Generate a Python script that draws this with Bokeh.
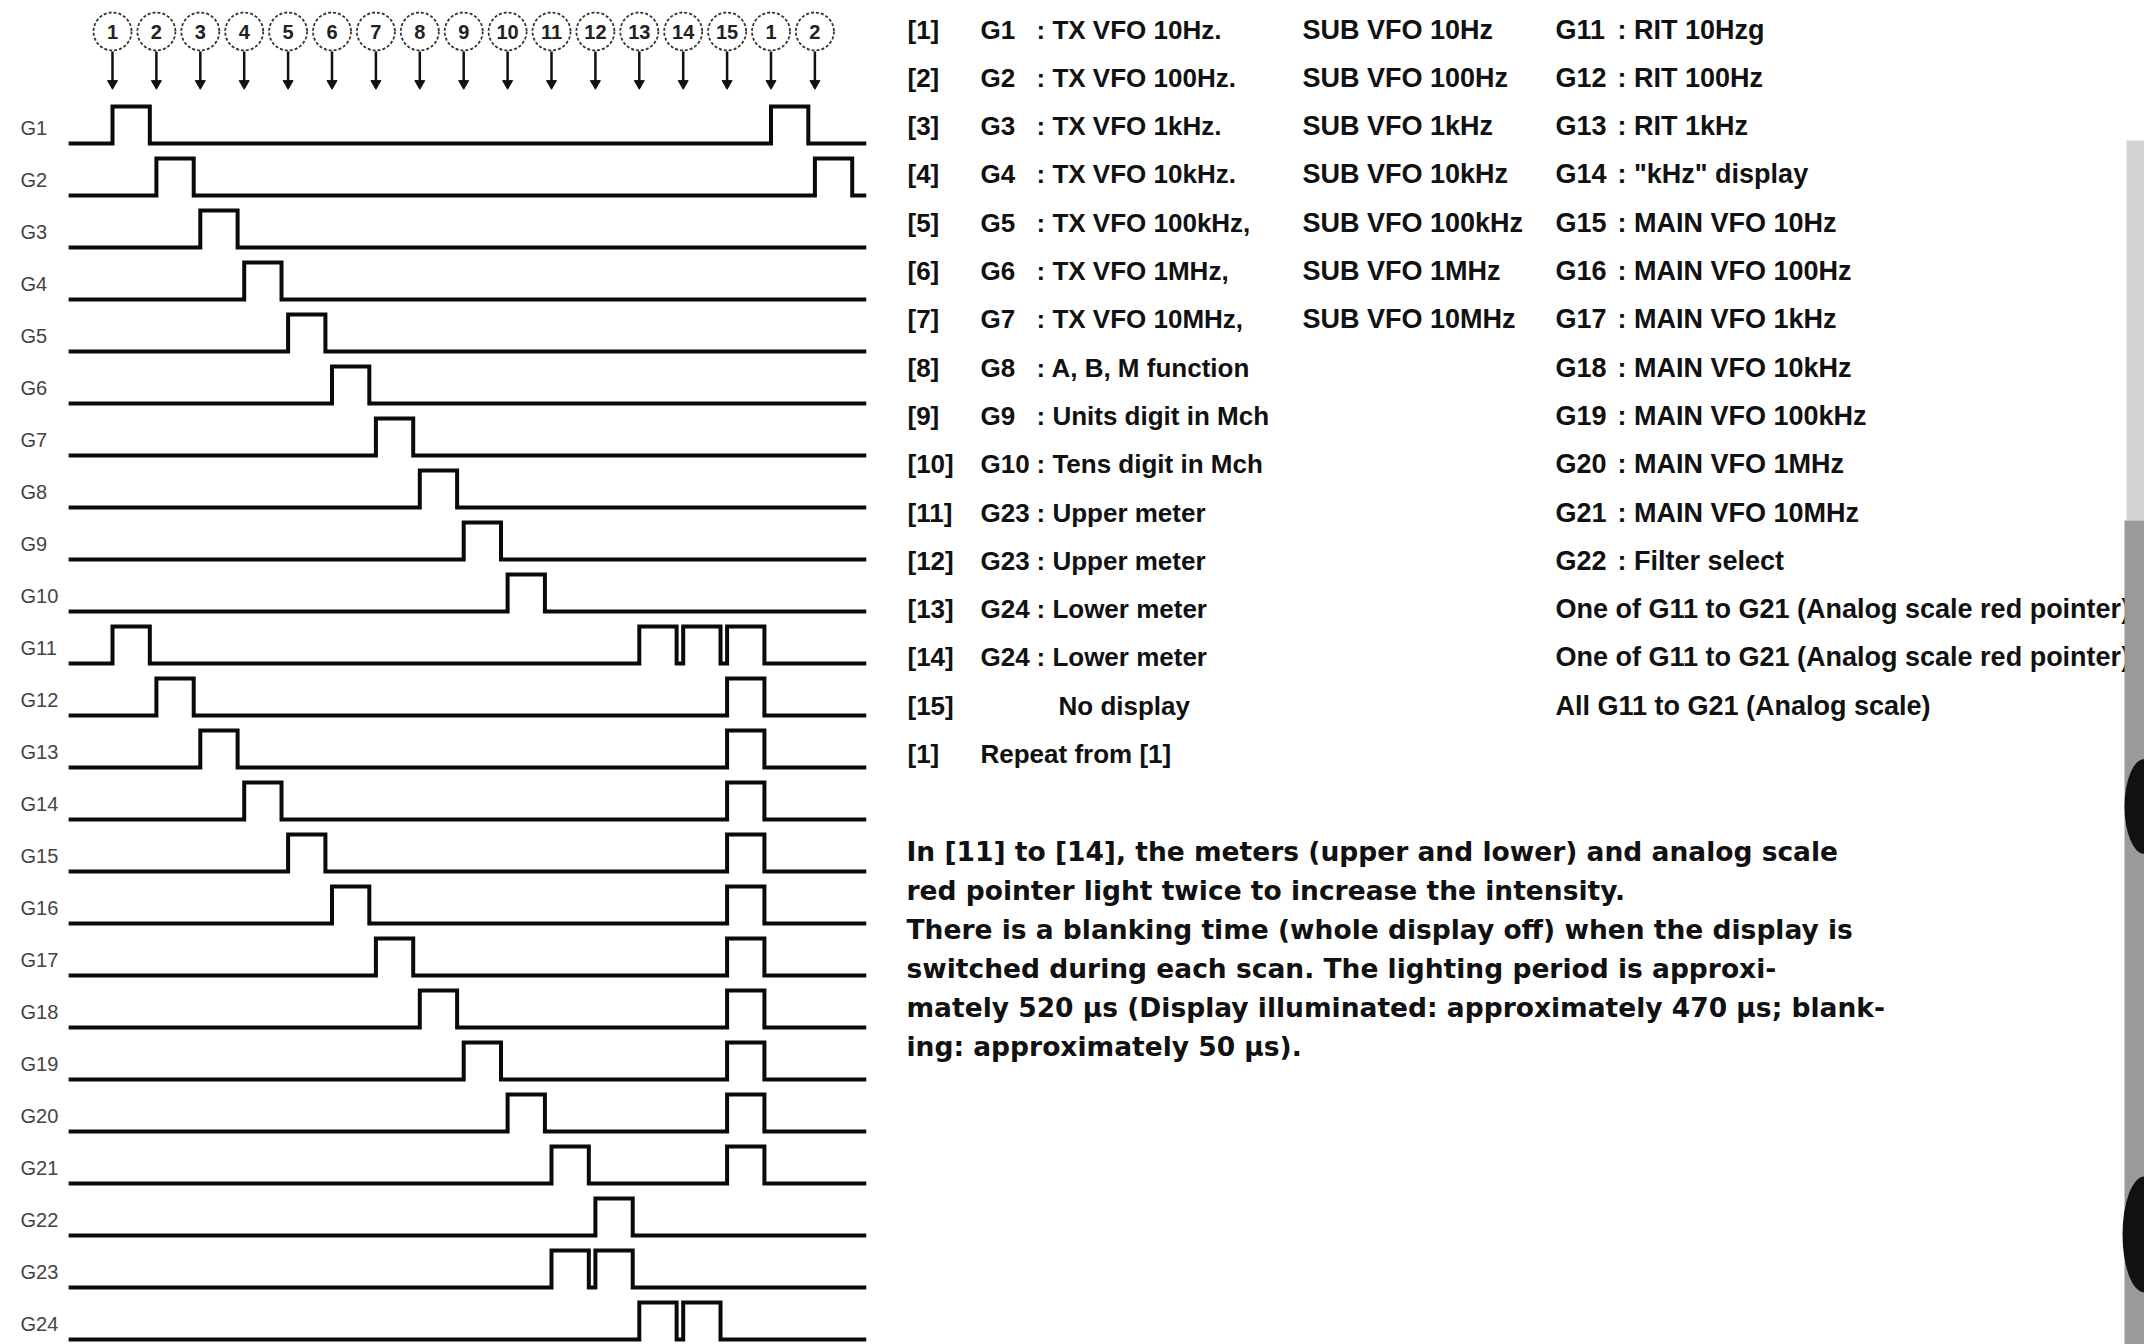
from bokeh.plotting import figure
from bokeh.models import Range1d
from bokeh.embed import file_html
from bokeh.resources import INLINE
from bokeh.core.properties import value

# ---------------- data ----------------
gate_names = ["G1", "G2", "G3", "G4", "G5", "G6", "G7", "G8", "G9", "G10",
              "G11", "G12", "G13", "G14", "G15", "G16", "G17", "G18", "G19", "G20",
              "G21", "G22", "G23", "G24"]
# scan steps (1..15, then 1, 2 again) in which each grid line is high
gate_high_steps = [[1, 16], [2, 17], [3], [4], [5], [6], [7], [8], [9], [10],
                   [1, 13, 14, 15], [2, 15], [3, 15], [4, 15], [5, 15], [6, 15],
                   [7, 15], [8, 15], [9, 15], [10, 15], [11, 15], [12], [11, 12], [13, 14]]
step_numbers = ["1", "2", "3", "4", "5", "6", "7", "8", "9", "10",
                "11", "12", "13", "14", "15", "1", "2"]

list_index = ["[1]", "[2]", "[3]", "[4]", "[5]", "[6]", "[7]", "[8]", "[9]", "[10]",
              "[11]", "[12]", "[13]", "[14]", "[15]", "[1]"]
list_gate = ["G1", "G2", "G3", "G4", "G5", "G6", "G7", "G8", "G9", "G10",
             "G23", "G23", "G24", "G24", "", ""]
list_desc = [": TX VFO 10Hz.", ": TX VFO 100Hz.", ": TX VFO 1kHz.", ": TX VFO 10kHz.",
             ": TX VFO 100kHz,", ": TX VFO 1MHz,", ": TX VFO 10MHz,", ": A, B, M function",
             ": Units digit in Mch", ": Tens digit in Mch", ": Upper meter", ": Upper meter",
             ": Lower meter", ": Lower meter", "", ""]
no_display_text = "No display"
repeat_text = "Repeat from [1]"
sub_desc = ["SUB VFO 10Hz", "SUB VFO 100Hz", "SUB VFO 1kHz", "SUB VFO 10kHz",
            "SUB VFO 100kHz", "SUB VFO 1MHz", "SUB VFO 10MHz"]
main_gate = ["G11", "G12", "G13", "G14", "G15", "G16", "G17", "G18", "G19", "G20",
             "G21", "G22"]
main_desc = [": RIT 10Hzg", ": RIT 100Hz", ": RIT 1kHz", ': "kHz" display',
             ": MAIN VFO 10Hz", ": MAIN VFO 100Hz", ": MAIN VFO 1kHz", ": MAIN VFO 10kHz",
             ": MAIN VFO 100kHz", ": MAIN VFO 1MHz", ": MAIN VFO 10MHz", ": Filter select"]
main_long = ["One of G11 to G21 (Analog scale red pointer)",
             "One of G11 to G21 (Analog scale red pointer)",
             "All G11 to G21 (Analog scale)"]
note_lines = ["In [11] to [14], the meters (upper and lower) and analog scale",
              "red pointer light twice to increase the intensity.",
              "There is a blanking time (whole display off) when the display is",
              "switched during each scan.  The lighting period is approxi-",
              "mately 520 \u00b5s (Display illuminated: approximately 470 \u00b5s; blank-",
              "ing: approximately 50 \u00b5s)."]

# ---------------- layout ----------------
W, H = 2144, 1344
X0, DX = 112.0, 43.9        # pixel of step 1, pixels per step
Y0, DY = 143.0, 52.0        # baseline of G1, pixels per row
PULSE_H = 37.0 / DY         # pulse height in rows
PULSE_W = 0.85              # pulse width in steps
T_START, T_END = 0.0, 18.17


def px2x(px):
    return 1 + (px - X0) / DX


def py2y(py):
    return 1 + (py - Y0) / DY


p = figure(width=W, height=H, output_backend="svg", toolbar_location=None,
           x_range=Range1d(px2x(0), px2x(W)),
           y_range=Range1d(py2y(H), py2y(0)),
           min_border=0)
p.axis.visible = False
p.grid.visible = False
p.outline_line_color = None
p.background_fill_color = "white"
p.border_fill_color = "white"

FONT = value("Liberation Sans")
WIDE = value("DejaVu Sans")

# waveforms
xs, ys = [], []
for r, steps in enumerate(gate_high_steps, start=1):
    x = [T_START]
    y = [r]
    for k in sorted(steps):
        x += [k, k, k + PULSE_W, k + PULSE_W]
        y += [r, r - PULSE_H, r - PULSE_H, r]
    x.append(T_END)
    y.append(r)
    xs.append(x)
    ys.append(y)
p.multi_line(xs, ys, line_color="#0a0a0a", line_width=4, line_join="miter")

# gate labels
rows = list(range(1, len(gate_names) + 1))
p.text(x=[px2x(20)] * len(rows), y=[r - 5 / DY for r in rows], text=gate_names,
       text_font=FONT, text_font_size="20px", text_color="#444444",
       text_baseline="bottom", text_align="left")

# step circles, numbers and arrows
steps = list(range(1, len(step_numbers) + 1))
cy = py2y(31)
p.scatter(x=steps, y=[cy] * len(steps), marker="circle", size=38,
          fill_color=None, line_color="#333333", line_width=1.8, line_dash="3 2")
p.text(x=steps, y=[cy] * len(steps), text=step_numbers, text_font=FONT,
       text_font_size="20px", text_font_style="bold", text_color="#222222",
       text_align="center", text_baseline="middle")
p.segment(x0=steps, y0=[py2y(51)] * len(steps), x1=steps, y1=[py2y(87)] * len(steps),
          line_color="#111111", line_width=2.5)
p.scatter(x=steps, y=[py2y(83)] * len(steps), marker="inverted_triangle", size=10,
          fill_color="#111111", line_color="#111111")

# right-hand list
ROW0, DROW = 29.0, 48.3
n = len(list_index)
row_y = [py2y(ROW0 + i * DROW) for i in range(n)]
TF1 = dict(text_font=FONT, text_font_size="26px", text_font_style="bold",
           text_color="#111111", text_baseline="middle", text_align="left")
TF2 = dict(TF1, text_font_size="27px")
p.text(x=[px2x(907)] * n, y=row_y, text=list_index, **TF1)
p.text(x=[px2x(980)] * n, y=row_y, text=list_gate, **TF1)
p.text(x=[px2x(1036)] * n, y=row_y, text=list_desc, **TF1)
p.text(x=[px2x(1058)], y=[row_y[14]], text=[no_display_text], **TF1)
p.text(x=[px2x(980)], y=[row_y[15]], text=[repeat_text], **TF1)
p.text(x=[px2x(1302)] * len(sub_desc), y=row_y[:len(sub_desc)], text=sub_desc, **TF2)
p.text(x=[px2x(1555)] * len(main_gate), y=row_y[:len(main_gate)], text=main_gate, **TF2)
p.text(x=[px2x(1617)] * len(main_desc), y=row_y[:len(main_desc)], text=main_desc, **TF2)
p.text(x=[px2x(1555)] * len(main_long), y=row_y[12:12 + len(main_long)], text=main_long, **TF2)

# note paragraph
NOTE0, DNOTE = 851.0, 39.0
p.text(x=[px2x(906)] * len(note_lines),
       y=[py2y(NOTE0 + i * DNOTE) for i in range(len(note_lines))],
       text=note_lines, text_font=WIDE, text_font_size="26.5px", text_font_style="bold",
       text_color="#111111", text_baseline="middle", text_align="left")

# scanner edge shading on the far right
p.quad(left=[px2x(2126)], right=[px2x(2144)], top=[py2y(140)], bottom=[py2y(520)],
       fill_color="#d4d4d4", line_color=None)
p.quad(left=[px2x(2124)], right=[px2x(2144)], top=[py2y(520)], bottom=[py2y(1344)],
       fill_color="#9a9a9a", line_color=None)
p.ellipse(x=[px2x(2144), px2x(2144)], y=[py2y(806), py2y(1234)], width=[40, 44],
          height=[95, 116], width_units="screen", height_units="screen",
          fill_color="#111111", line_color=None)

open("out.html", "w").write(file_html(p, INLINE))
